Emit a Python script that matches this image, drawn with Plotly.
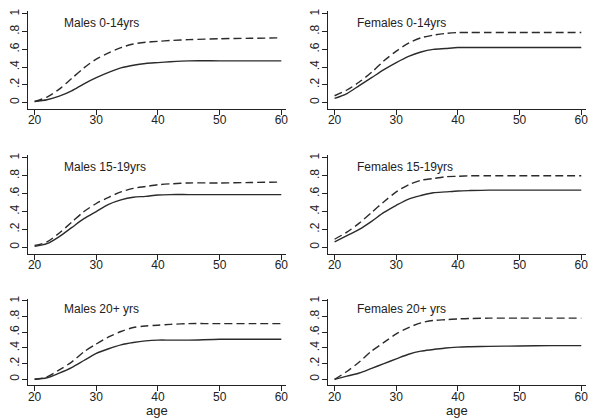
import plotly.graph_objects as go

ages = [20, 22, 24, 26, 28, 30, 32, 34, 36, 38, 40, 42, 45, 50, 55, 60]

titles = ["Males 0-14yrs", "Females 0-14yrs",
          "Males 15-19yrs", "Females 15-19yrs",
          "Males 20+ yrs", "Females 20+ yrs"]

m014_dash  = [0.01, 0.06, 0.15, 0.27, 0.39, 0.49, 0.56, 0.62, 0.66, 0.68, 0.69, 0.70, 0.71, 0.72, 0.725, 0.73]
m014_solid = [0.01, 0.03, 0.07, 0.13, 0.21, 0.28, 0.34, 0.39, 0.42, 0.44, 0.45, 0.46, 0.47, 0.47, 0.47, 0.47]
f014_dash  = [0.075, 0.14, 0.23, 0.34, 0.47, 0.58, 0.67, 0.73, 0.76, 0.78, 0.79, 0.79, 0.79, 0.79, 0.79, 0.79]
f014_solid = [0.045, 0.10, 0.19, 0.28, 0.37, 0.45, 0.52, 0.57, 0.60, 0.61, 0.62, 0.62, 0.62, 0.62, 0.62, 0.62]
m1519_dash  = [0.02, 0.06, 0.16, 0.28, 0.40, 0.49, 0.56, 0.62, 0.66, 0.68, 0.70, 0.71, 0.72, 0.72, 0.725, 0.73]
m1519_solid = [0.01, 0.04, 0.12, 0.22, 0.32, 0.40, 0.48, 0.53, 0.56, 0.57, 0.585, 0.59, 0.59, 0.59, 0.59, 0.59]
f1519_dash  = [0.09, 0.17, 0.27, 0.39, 0.51, 0.62, 0.70, 0.75, 0.77, 0.79, 0.795, 0.80, 0.80, 0.80, 0.80, 0.80]
f1519_solid = [0.06, 0.13, 0.20, 0.29, 0.39, 0.47, 0.54, 0.58, 0.61, 0.62, 0.63, 0.635, 0.64, 0.64, 0.64, 0.64]
m20_dash  = [0.0, 0.03, 0.12, 0.22, 0.35, 0.45, 0.54, 0.61, 0.66, 0.68, 0.69, 0.70, 0.71, 0.71, 0.71, 0.71]
m20_solid = [0.0, 0.02, 0.08, 0.15, 0.24, 0.33, 0.39, 0.44, 0.47, 0.49, 0.50, 0.50, 0.50, 0.51, 0.51, 0.51]
f20_dash  = [0.0, 0.10, 0.22, 0.36, 0.47, 0.58, 0.66, 0.72, 0.75, 0.76, 0.77, 0.775, 0.78, 0.78, 0.78, 0.78]
f20_solid = [0.0, 0.04, 0.08, 0.14, 0.20, 0.26, 0.32, 0.36, 0.38, 0.40, 0.41, 0.415, 0.42, 0.425, 0.43, 0.43]

panels = [(m014_dash, m014_solid), (f014_dash, f014_solid),
          (m1519_dash, m1519_solid), (f1519_dash, f1519_solid),
          (m20_dash, m20_solid), (f20_dash, f20_solid)]

y_ticks = [0, 0.2, 0.4, 0.6, 0.8, 1]
y_ticktext = ["0", ".2", ".4", ".6", ".8", "1"]
x_ticks = [20, 30, 40, 50, 60]

W, H = 600, 419
col_dom = [[16 / W, 277 / W], [319 / W, 580 / W]]
row_dom = [[0.7644, 0.9992], [0.4159, 0.6532], [0.1005, 0.3088]]

line_col = "#2b2b2b"
fig = go.Figure()
layout = {}
for i, (dash, solid) in enumerate(panels):
    r, c = divmod(i, 2)
    n = i + 1
    xa = "x" if n == 1 else f"x{n}"
    ya = "y" if n == 1 else f"y{n}"
    fig.add_trace(go.Scatter(x=ages, y=dash, mode="lines", xaxis=xa, yaxis=ya,
                             line=dict(color=line_col, width=1.4, dash="8px,4px", shape="spline", smoothing=0.8),
                             showlegend=False, hoverinfo="skip"))
    fig.add_trace(go.Scatter(x=ages, y=solid, mode="lines", xaxis=xa, yaxis=ya,
                             line=dict(color=line_col, width=1.4, shape="spline", smoothing=0.8),
                             showlegend=False, hoverinfo="skip"))
    xkey = "xaxis" if n == 1 else f"xaxis{n}"
    ykey = "yaxis" if n == 1 else f"yaxis{n}"
    layout[xkey] = dict(domain=col_dom[c], anchor=ya, range=[18.9, 60.8],
                        tickvals=x_ticks, ticks="outside", ticklen=5, tickcolor="#222",
                        ticklabelstandoff=-5,
                        showline=True, linecolor="#222", linewidth=1, showgrid=False,
                        zeroline=False, tickfont=dict(size=12, color="#222"),
                        fixedrange=True)
    layout[ykey] = dict(domain=row_dom[r], anchor=xa, range=[-0.075, 1.03],
                        tickvals=y_ticks, ticktext=y_ticktext, ticks="outside",
                        ticklen=5, tickcolor="#222", tickangle=-90,
                        ticklabelstandoff=-2,
                        showline=True, linecolor="#222", linewidth=1, showgrid=False,
                        zeroline=False, tickfont=dict(size=12, color="#222"),
                        fixedrange=True)
    fig.add_annotation(x=24.4 if c == 0 else 23.3, y=0.9, xref=xa, yref=ya,
                       text=titles[i], showarrow=False, xanchor="left", yanchor="middle",
                       font=dict(size=12, color="#222"))

for xc in [(16 + 277) / 2 / W, (319 + 580) / 2 / W]:
    fig.add_annotation(x=xc, y=(H - 402.5) / H, xref="paper", yref="paper", text="age",
                       showarrow=False, xanchor="center", yanchor="middle",
                       font=dict(size=13, color="#222"))

fig.update_layout(**layout)
fig.update_layout(width=W, height=H, margin=dict(l=0, r=0, t=0, b=0),
                  paper_bgcolor="white", plot_bgcolor="white",
                  font=dict(family="Liberation Sans, Arial, sans-serif", color="#222"))
fig.write_html("out.html")
